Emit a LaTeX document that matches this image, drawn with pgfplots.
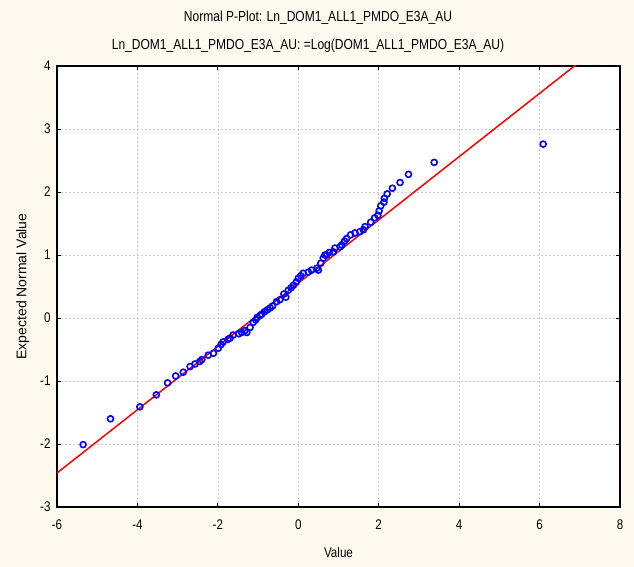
\documentclass[border=0pt]{standalone}
\usepackage{pgfplots}
\pgfplotsset{compat=1.18}
\usepackage{fontspec}
\setmainfont{Liberation Sans}
\definecolor{cream}{RGB}{255,250,240}
\newcommand{\nar}[1]{\scalebox{0.83}[1]{#1}}
\begin{document}
\begin{tikzpicture}[x=1pt,y=1pt]
\fill[cream] (0,0) rectangle (634,567);
\path[use as bounding box] (0,0) rectangle (634,567);
\node[font=\fontsize{14.5}{16}\selectfont] at (318,549) {\nar{Normal P-Plot: Ln\_DOM1\_ALL1\_PMDO\_E3A\_AU}};
\node[font=\fontsize{14.5}{16}\selectfont] at (308,521) {\nar{Ln\_DOM1\_ALL1\_PMDO\_E3A\_AU: =Log(DOM1\_ALL1\_PMDO\_E3A\_AU)}};
\begin{axis}[
  at={(57pt,60pt)}, anchor=south west,
  scale only axis, width=563pt, height=441pt,
  xmin=-6, xmax=8, ymin=-3, ymax=4,
  xtick={-6,-4,...,8}, ytick={-3,-2,...,4},
  tick align=inside, major tick length=4pt,
  tick style={black, line width=0.8pt},
  axis line style={line width=1.6pt},
  axis background/.style={fill=white},
  grid=major,
  grid style={dash pattern=on 2pt off 2pt, gray!40, line width=0.6pt},
  /pgf/number format/assume math mode=true,
  ticklabel style={font=\fontsize{14}{16}\selectfont},
  xticklabel style={yshift=-9pt},
  yticklabel style={xshift=-3pt},
  xticklabel={\nar{\pgfmathprintnumber{\tick}}},
  yticklabel={\nar{\pgfmathprintnumber{\tick}}},
  xlabel={\nar{Value}},
  ylabel={Expected Normal Value},
  label style={font=\fontsize{14}{16}\selectfont},
  xlabel style={yshift=-11pt},
  ylabel style={yshift=4pt},
  clip=true,
]
\addplot[only marks, mark=o, mark size=3pt, mark options={draw=blue, line width=1.6pt}] coordinates {
(-5.35,-2.01) (-4.67,-1.60) (-3.94,-1.41) (-3.53,-1.22) (-3.25,-1.03)
(-3.05,-0.92) (-2.86,-0.86) (-2.69,-0.77) (-2.57,-0.73) (-2.45,-0.69)
(-2.40,-0.66) (-2.24,-0.59) (-2.11,-0.56) (-1.99,-0.48) (-1.92,-0.42)
(-1.87,-0.38) (-1.75,-0.34) (-1.70,-0.32) (-1.62,-0.27) (-1.48,-0.25)
(-1.41,-0.23) (-1.33,-0.20) (-1.28,-0.23) (-1.20,-0.15) (-1.12,-0.07)
(-1.06,-0.03) (-1.02,0.01) (-0.95,0.04) (-0.91,0.06) (-0.84,0.10)
(-0.77,0.13) (-0.70,0.16) (-0.64,0.19) (-0.54,0.26) (-0.46,0.29)
(-0.36,0.38) (-0.31,0.33) (-0.25,0.44) (-0.18,0.48) (-0.12,0.52)
(-0.05,0.57) (0.00,0.63) (0.06,0.67) (0.12,0.71) (0.25,0.73)
(0.33,0.76) (0.46,0.79) (0.50,0.76) (0.56,0.87) (0.62,0.95) (0.66,1.00)
(0.71,1.00) (0.77,1.04) (0.87,1.05) (0.91,1.11) (1.04,1.13)
(1.08,1.16) (1.15,1.22) (1.20,1.26) (1.30,1.32) (1.41,1.35)
(1.53,1.37) (1.62,1.40) (1.66,1.45) (1.80,1.52) (1.90,1.59)
(1.98,1.63) (2.01,1.70) (2.05,1.78) (2.13,1.84) (2.14,1.90)
(2.21,1.97) (2.34,2.06) (2.53,2.15) (2.74,2.28) (3.38,2.47)
(6.09,2.76)
};
\addplot[red, line width=1.5pt] coordinates {(-6,-2.46) (8,4.57)};
\end{axis}
\end{tikzpicture}
\end{document}
